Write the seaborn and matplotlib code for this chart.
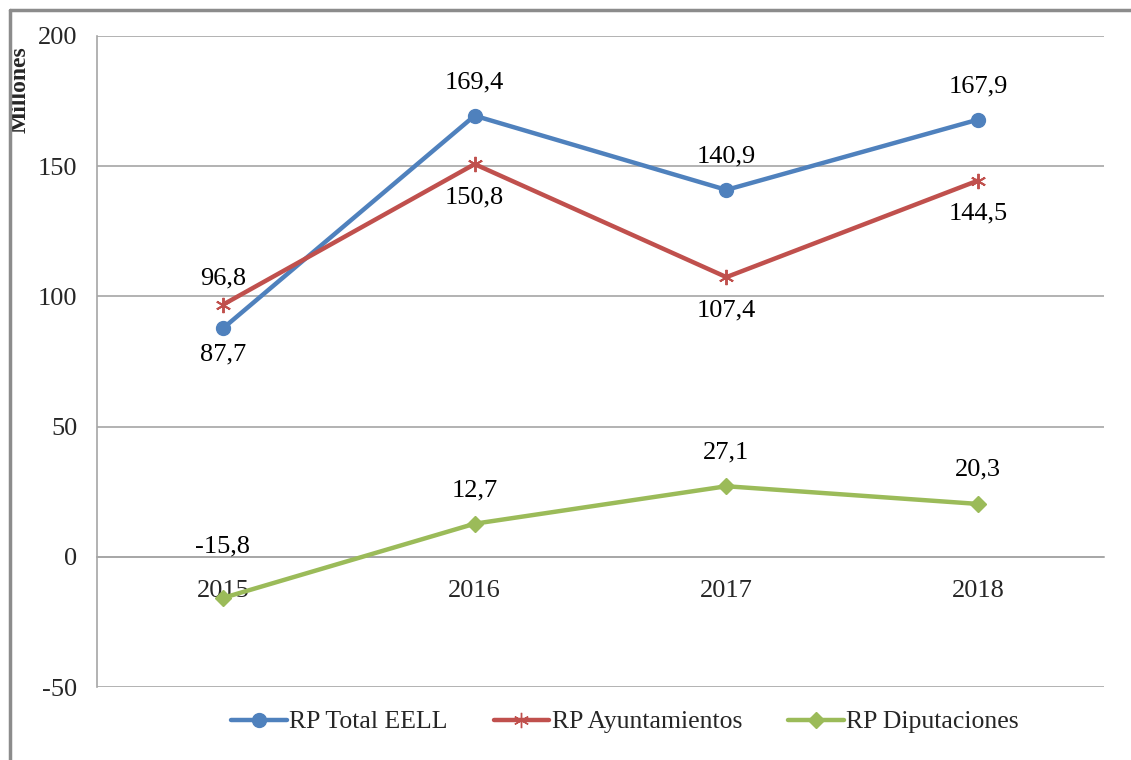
import numpy as np
import pandas as pd
import matplotlib
matplotlib.use("Agg")
import matplotlib.pyplot as plt
from matplotlib.lines import Line2D
from matplotlib.patches import Rectangle
import seaborn as sns

years = [2015, 2016, 2017, 2018]
total_eell = [87.7, 169.4, 140.9, 167.9]
ayuntamientos = [96.8, 150.8, 107.4, 144.5]
diputaciones = [-15.8, 12.7, 27.1, 20.3]
series_names = ["RP Total EELL", "RP Ayuntamientos", "RP Diputaciones"]

# vertical offset (points) of each data label, negative = below the point
label_offset = {
    "RP Total EELL": [-19, 24, 24, 24],
    "RP Ayuntamientos": [19, -24, -24, -24],
    "RP Diputaciones": [37, 24, 24, 25],
}

colors = {"RP Total EELL": "#4F81BD", "RP Ayuntamientos": "#C0504D", "RP Diputaciones": "#9BBB59"}
markers = {"RP Total EELL": "o", "RP Ayuntamientos": (6, 2, 0), "RP Diputaciones": "D"}
msizes = {"RP Total EELL": 10, "RP Ayuntamientos": 11, "RP Diputaciones": 8}

sns.set_style("white")
plt.rcParams["font.family"] = ["Liberation Serif", "DejaVu Serif"]
plt.rcParams["axes.unicode_minus"] = False

fig = plt.figure(figsize=(11.31, 7.6), dpi=100)
ax = fig.add_axes([97 / 1131, 73 / 760, 1007 / 1131, 651 / 760])

data = {"RP Total EELL": total_eell, "RP Ayuntamientos": ayuntamientos, "RP Diputaciones": diputaciones}
gray = "#A6A6A6"
fs = 19

for name in series_names:
    vals = data[name]
    sns.lineplot(x=years, y=vals, ax=ax, color=colors[name], linewidth=3.2,
                 marker=markers[name], markersize=msizes[name],
                 markeredgecolor=colors[name], markeredgewidth=1.4 if name == "RP Ayuntamientos" else 1,
                 label=name, legend=False, zorder=3)
    for x, v, off in zip(years, vals, label_offset[name]):
        ax.annotate(f"{v:.1f}".replace(".", ","), (x, v), xytext=(0, off),
                    textcoords="offset points", ha="center", va="center",
                    fontsize=fs, color="black", zorder=4)

ax.set_xlim(2014.5, 2018.5)
ax.set_ylim(-50, 200)
ax.set_yticks([-50, 0, 50, 100, 150, 200])
ax.yaxis.grid(True, color=gray, linewidth=1.2)
ax.set_axisbelow(True)

for sp in ["top", "right"]:
    ax.spines[sp].set_visible(False)
ax.spines["left"].set_color(gray)
ax.spines["left"].set_linewidth(1.2)
ax.spines["bottom"].set_position(("data", 0))
ax.spines["bottom"].set_color(gray)
ax.spines["bottom"].set_linewidth(1.2)

ax.set_xticks(years)
ax.set_xticklabels([str(y) for y in years])
ax.set_xticks([2015.5, 2016.5, 2017.5, 2018.5], minor=True)
ax.tick_params(axis="x", which="major", length=0, pad=17, labelsize=fs)
ax.tick_params(axis="x", which="minor", length=6, width=1.2, color=gray, direction="out")
ax.tick_params(axis="y", length=6, width=1.2, color=gray, direction="out", pad=8, labelsize=fs)
ax.set_xlabel("")

fig.text(20 / 1131, 1 - 90 / 760, "Millones", rotation=90, ha="center", va="center",
         fontsize=17, fontweight="bold")

handles = [Line2D([0], [0], color=colors[n], linewidth=3.2, marker=markers[n],
                  markersize=msizes[n], markeredgecolor=colors[n]) for n in series_names]
fig.legend(handles, series_names, loc="center", bbox_to_anchor=(625 / 1131, 1 - 722 / 760),
           ncol=3, frameon=False, fontsize=18.5, handlelength=2.15, handletextpad=0.1,
           columnspacing=1.8)

# chart border (top and left edges visible), text outside it is clipped
fig.add_artist(Rectangle((0, 0), 9 / 1131, 1, transform=fig.transFigure,
                         facecolor="white", edgecolor="none", zorder=10))
fig.add_artist(Line2D([10 / 1131, 10 / 1131], [0, 1 - 10 / 760], transform=fig.transFigure,
                      color="#8C8C8C", linewidth=2.5, zorder=11))
fig.add_artist(Line2D([10 / 1131, 1], [1 - 10 / 760, 1 - 10 / 760], transform=fig.transFigure,
                      color="#8C8C8C", linewidth=2.5, zorder=11))

fig.savefig("out.png", dpi=100)
